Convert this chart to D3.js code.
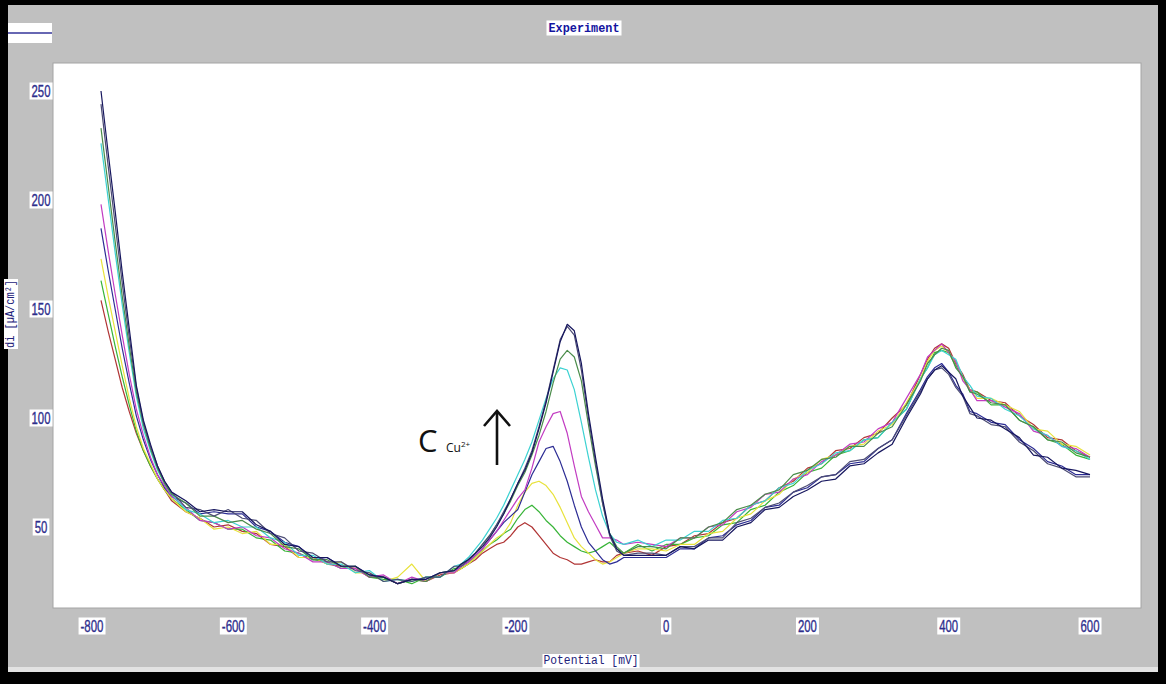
<!DOCTYPE html>
<html>
<head>
<meta charset="utf-8">
<script src="https://cdn.jsdelivr.net/npm/d3@7"></script>
<style>
  body { margin: 0; background: #000; }
  svg { display: block; }
</style>
</head>
<body>
<svg id="chart" width="1166" height="684"></svg>
<script>
// Differential pulse voltammograms, di vs potential, for increasing Cu2+ concentration

// Potential axis (mV)
const potentials = [
  -800,-790,-780,-770,-760,-750,-740,-730,-720,-710,-700,
  -680,-660,-640,-620,-600,-580,-560,-540,-520,
  -500,-480,-460,-440,-420,-400,-380,-360,-340,-320,-300,
  -290,-280,-270,-260,-250,-240,-230,-220,-210,-200,-190,-180,-170,-160,-150,-140,-130,-120,-110,-100,-90,-80,-70,-60,
  -40,-20,0,20,40,60,80,100,120,140,160,180,200,220,240,260,280,300,320,340,360,370,380,390,400,410,420,430,440,460,480,500,520,540,560,580,600
];

// Current density di (µA/cm²), one scan per Cu2+ concentration, lowest first
const scan1 = [154,140,127,114,103,93,85,78,72,67,62,
  57,54,50,51,48,47,42,41,36,
  36,33,32,31,27,27,24,26,25,28,29,
  31,33,35,38,40,42,43,46,50,52,50,46,42,38,36,35,33,33,34,35,34,34,37,38,
  39,37,41,42,46,47,52,54,60,62,68,71,77,79,85,86,91,93,100,106,120,127,132,134,132,125,120,113,112,108,107,101,97,91,90,85,82];
const scan2 = [163,148,133,119,106,94,85,78,72,67,63,
  58,53,52,49,49,45,44,39,38,
  35,34,31,32,27,26,26,24,27,27,31,
  31,33,36,39,42,44,47,49,54,58,60,57,53,50,46,43,41,39,38,39,41,43,40,38,
  42,39,42,42,45,46,51,52,58,60,66,69,75,77,83,85,90,91,98,104,118,123,130,131,130,124,119,112,112,106,106,99,96,90,88,83,81];
const scan3 = [173,156,140,124,109,96,86,79,72,67,63,
  57,54,49,50,47,48,42,42,36,
  36,33,34,29,29,25,27,33,25,29,29,
  31,33,36,39,42,45,47,52,60,66,70,71,69,65,59,52,45,41,38,35,33,34,36,38,
  40,40,39,42,42,47,48,54,56,62,65,72,75,81,83,87,88,94,97,107,118,126,131,133,130,126,118,113,109,109,106,103,95,94,88,87,83];
const scan4 = [187,168,150,132,116,101,90,81,74,68,64,
  61,56,57,56,56,50,48,43,41,
  35,36,32,32,28,27,24,26,26,29,30,
  32,34,37,40,44,48,52,55,58,66,74,80,86,87,80,71,60,50,43,39,35,33,34,36,
  36,36,36,40,40,45,46,51,53,59,60,66,68,73,74,79,80,86,90,102,113,119,123,125,121,115,111,103,102,98,97,90,86,80,78,74,74];
const scan5 = [198,177,157,138,120,104,92,82,74,69,64,
  59,53,52,49,50,46,45,40,38,
  34,34,31,31,27,28,24,27,25,29,29,
  32,34,37,40,44,48,53,58,63,67,77,89,96,102,103,93,78,64,57,51,45,45,44,42,
  43,42,41,45,45,50,51,57,59,65,66,72,74,80,83,88,89,95,98,109,120,128,131,134,130,126,117,113,108,108,105,102,94,92,87,86,82];
const scan6 = [226,201,176,152,130,110,95,85,76,70,65,
  58,56,52,53,50,50,45,43,37,
  37,33,33,29,30,25,26,25,27,27,32,
  33,36,40,44,49,54,60,67,74,81,89,99,109,118,123,122,113,98,82,67,55,47,43,42,
  44,41,44,44,48,48,53,54,60,62,68,70,76,79,84,85,90,91,98,104,118,123,129,131,129,127,119,115,110,109,104,101,95,92,87,85,81];
const scan7 = [233,207,181,156,133,112,97,86,77,70,65,
  61,55,55,52,53,49,47,41,40,
  35,35,32,32,27,27,24,26,25,29,30,
  33,35,38,42,46,51,56,62,69,75,83,92,103,116,127,131,128,117,97,78,61,47,41,38,
  41,41,40,45,45,50,52,58,60,65,67,74,76,81,82,87,87,93,96,106,117,125,129,132,131,123,119,112,111,107,106,99,96,90,89,84,82];
const scan8 = [244,216,189,162,137,114,98,87,78,71,66,
  59,58,55,58,54,53,47,45,39,
  38,34,34,30,29,25,26,25,27,27,32,
  32,35,38,42,46,51,57,63,70,77,85,96,108,122,136,142,138,122,100,80,61,46,39,37,
  38,38,37,41,41,45,45,52,54,59,61,66,69,73,74,80,81,86,90,101,112,118,122,123,120,114,110,102,101,97,96,89,85,79,77,73,73];
const scan9 = [250,222,195,167,141,115,99,88,78,71,66,
  62,57,58,57,57,51,48,42,41,
  36,36,32,32,28,27,24,26,26,29,30,
  33,35,38,41,45,50,56,63,70,76,84,95,107,121,135,143,140,125,102,82,63,47,40,37,
  37,37,37,41,40,44,44,50,52,58,59,64,67,71,72,78,79,84,88,100,111,118,122,124,121,118,110,105,100,99,95,91,83,82,77,76,74];

const scans = [scan1, scan2, scan3, scan4, scan5, scan6, scan7, scan8, scan9];

// Axis tick values
const xTicks = [-800, -600, -400, -200, 0, 200, 400, 600];
const yTicks = [50, 100, 150, 200, 250];

// Trace colours, one per scan
const scanColors = ["#b03434", "#38b438", "#e8e23c", "#2c2c94", "#c23cc2",
                    "#3cd2d2", "#4a8c4a", "#4c4c74", "#16165e"];

const svg = d3.select("#chart");

// Window frame
svg.append("rect").attr("width", 1166).attr("height", 684).attr("fill", "#000");
svg.append("rect").attr("x", 8).attr("y", 5).attr("width", 1150).attr("height", 663).attr("fill", "#c0c0c0");
svg.append("rect").attr("x", 8).attr("y", 667).attr("width", 1150).attr("height", 5).attr("fill", "#e2e2e2");

// Legend swatch, top left
svg.append("rect").attr("x", 8).attr("y", 23).attr("width", 44).attr("height", 20).attr("fill", "#fff");
svg.append("line").attr("x1", 8).attr("x2", 52).attr("y1", 33).attr("y2", 33)
  .attr("stroke", "#34349a").attr("stroke-width", 1.5);

// Plot area
const plot = { left: 53, top: 63, right: 1141, bottom: 608 };
svg.append("rect")
  .attr("x", plot.left).attr("y", plot.top)
  .attr("width", plot.right - plot.left).attr("height", plot.bottom - plot.top)
  .attr("fill", "#fff").attr("stroke", "#a4a4a4").attr("stroke-width", 1);

svg.append("clipPath").attr("id", "plotClip")
  .append("rect")
  .attr("x", plot.left).attr("y", plot.top)
  .attr("width", plot.right - plot.left).attr("height", plot.bottom - plot.top);

const x = d3.scaleLinear().domain([-800, 600]).range([101, 1090]);
const y = d3.scaleLinear().domain([0, 250]).range([636, 91]);

const line = d3.line()
  .x((d, i) => x(potentials[i]))
  .y(d => y(d));

svg.append("g").attr("clip-path", "url(#plotClip)")
  .selectAll("path")
  .data(scans)
  .join("path")
  .attr("d", d => line(d))
  .attr("fill", "none")
  .attr("stroke", (d, i) => scanColors[i])
  .attr("stroke-width", 1.2)
  .attr("stroke-linejoin", "round");

// Text with a white backing box; optional squeeze to a fixed width
function boxedText(parent, tx, ty, str, opts) {
  const g = parent.append("g");
  const t = g.append("text")
    .attr("x", tx).attr("y", ty)
    .attr("text-anchor", opts.anchor || "middle")
    .attr("dominant-baseline", "central")
    .attr("font-family", opts.family)
    .attr("font-size", opts.size)
    .attr("font-weight", opts.weight || "normal")
    .attr("fill", opts.color)
    .text(str);
  if (opts.stroke) t.attr("stroke", opts.color).attr("stroke-width", opts.stroke);
  if (opts.width) t.attr("textLength", opts.width).attr("lengthAdjust", "spacingAndGlyphs");
  if (opts.rotate) t.attr("transform", `rotate(${opts.rotate},${tx},${ty})`);
  const b = t.node().getBBox();
  const pad = opts.pad || 2;
  const r = g.insert("rect", "text")
    .attr("x", b.x - pad).attr("y", b.y)
    .attr("width", b.width + 2 * pad).attr("height", b.height)
    .attr("fill", "#fff");
  if (opts.rotate) r.attr("transform", `rotate(${opts.rotate},${tx},${ty})`);
  return g;
}

const tickFont = "'Liberation Sans',Arial,sans-serif";
const tickColor = "#2e2e8c";
const tickWidth = s => s.replace("-", "").length * 6.3 + (s.startsWith("-") ? 4 : 0);

// X tick labels
xTicks.forEach(v => {
  const s = String(v);
  boxedText(svg, x(v) - (v < 0 ? 9 : 0), 626, s,
    { family: tickFont, size: 16, color: tickColor, width: tickWidth(s), stroke: 0.35 });
});

// Y tick labels
yTicks.forEach(v => {
  const s = String(v);
  boxedText(svg, 41, y(v), s,
    { family: tickFont, size: 16, color: tickColor, width: tickWidth(s), stroke: 0.35 });
});

// Axis titles and chart title
const monoFont = "'Liberation Mono','DejaVu Sans Mono',monospace";
boxedText(svg, 591, 661, "Potential [mV]", { family: monoFont, size: 12, color: "#22227a", pad: 1, width: 95 });
boxedText(svg, 11, 314, "di [µA/cm²]", { family: monoFont, size: 12, color: "#22227a", rotate: -90, pad: 1, width: 68 });
boxedText(svg, 584, 28, "Experiment", { family: monoFont, size: 13, weight: "bold", color: "#1414a0", pad: 2, width: 71 });

// Concentration annotation with arrow
const ann = svg.append("g");
ann.append("text").attr("x", 418).attr("y", 452)
  .attr("font-family", "'Open Sans',sans-serif").attr("font-size", 31).attr("fill", "#111")
  .text("C");
const sub = ann.append("text").attr("x", 446).attr("y", 452)
  .attr("font-family", "'Open Sans',sans-serif").attr("font-size", 12).attr("fill", "#111");
sub.append("tspan").text("Cu");
sub.append("tspan").attr("dy", -5).attr("font-size", 8).text("2+");
ann.append("line").attr("x1", 497).attr("x2", 497).attr("y1", 465).attr("y2", 412)
  .attr("stroke", "#111").attr("stroke-width", 2.6);
ann.append("path").attr("d", "M484,426 L497,411 L510,426")
  .attr("fill", "none").attr("stroke", "#111").attr("stroke-width", 2.6);
</script>
</body>
</html>
